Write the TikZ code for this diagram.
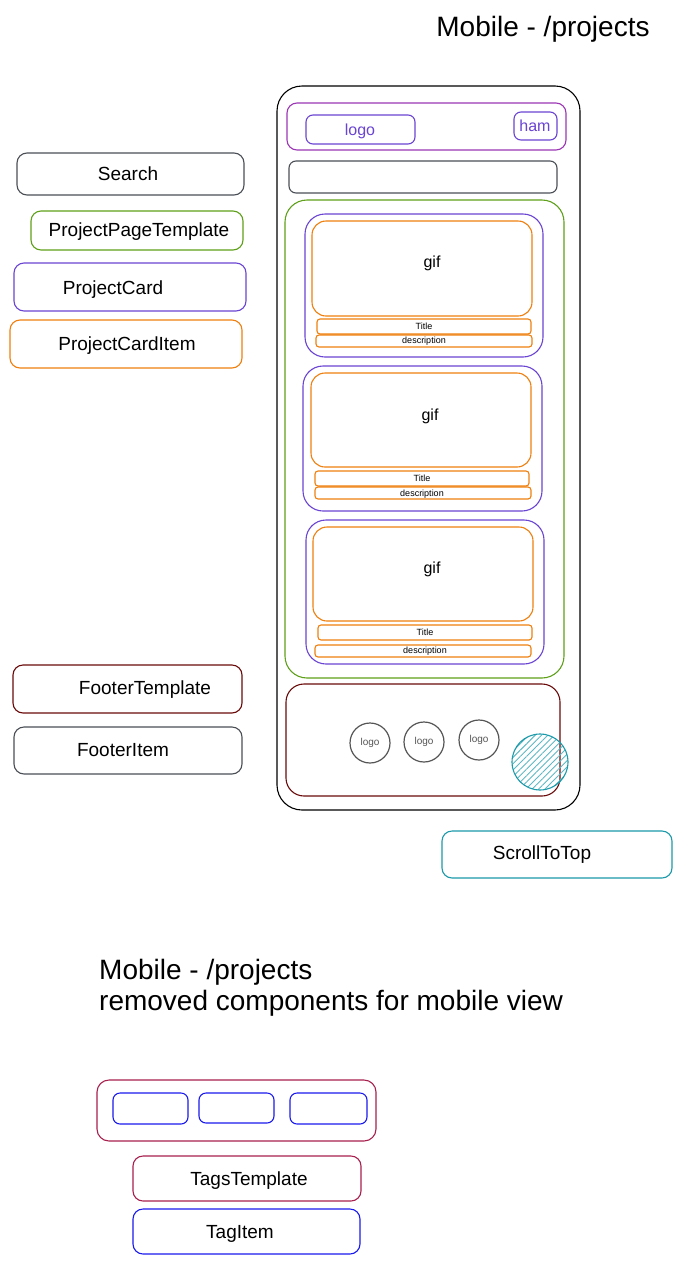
\documentclass[tikz,border=0pt]{standalone}
\usepackage{fontspec}
\setmainfont{Liberation Sans}
\usetikzlibrary{fit,patterns.meta}
\definecolor{cgray}{HTML}{4A4F55}
\definecolor{cgreen}{HTML}{5FA01A}
\definecolor{cviolet}{HTML}{6A44D2}
\definecolor{corange}{HTML}{EF7F0E}
\definecolor{cmagenta}{HTML}{9C36B5}
\definecolor{cdred}{HTML}{6A0A0A}
\definecolor{cteal}{HTML}{1B9AAA}
\definecolor{ccrimson}{HTML}{A8204E}
\definecolor{cblue}{HTML}{1A1AEE}
\definecolor{clogo}{HTML}{555555}
\begin{document}
\begin{tikzpicture}[x=1pt,y=-1pt,
  box/.style={draw=#1, line width=1.1pt, rounded corners=10pt, inner sep=0pt},
  lab/.style={font=\fontsize{19}{22}\selectfont, inner sep=0pt, text height=13.6pt, text depth=0pt},
  big/.style={font=\fontsize{28}{31}\selectfont, inner sep=0pt, align=left},
  mid/.style={font=\fontsize{16}{18}\selectfont, inner sep=0pt, text height=11.5pt, text depth=0pt},
  tiny/.style={font=\fontsize{9}{10}\selectfont, inner sep=0pt, text height=6.5pt, text depth=0pt},
  flogo/.style={draw=clogo, line width=1.2pt, circle, minimum size=40pt, inner sep=0pt, font=\fontsize{10}{11}\selectfont, text=clogo}]
\useasboundingbox[fill=white] (0,0) rectangle (683,1264);

% titles
\node[big, text height=20pt, text depth=0pt] (title1) at (543,26) {Mobile - /projects};
\node[big, anchor=north west] (title2) at (99,959) {Mobile - /projects\\removed components for mobile view};

% legend boxes (left)
\node[box=cgray, fit={(17,153) (244,195)}] (search) {};
\node[lab] (searchT) at (128,174) {Search};
\node[box=cgreen, fit={(31,211) (243,250)}] (ppt) {};
\node[lab] (pptT) at (139,230) {ProjectPageTemplate};
\node[box=cviolet, fit={(14,263) (246,311)}] (pc) {};
\node[lab] (pcT) at (113,288) {ProjectCard};
\node[box=corange, fit={(10,320) (242,368)}] (pci) {};
\node[lab] (pciT) at (127,344) {ProjectCardItem};
\node[box=cdred, fit={(13,665) (242,713)}] (ft) {};
\node[lab] (ftT) at (145,688) {FooterTemplate};
\node[box=cgray, fit={(14,727) (242,774)}] (fi) {};
\node[lab] (fiT) at (123,750) {FooterItem};
\node[box=cteal, fit={(442,831) (672,878)}] (stt) {};
\node[lab] (sttT) at (542,853) {ScrollToTop};

% phone
\node[box=black, rounded corners=25pt, fit={(277,86) (580,810)}] (phone) {};
% header
\node[box=cmagenta, fit={(287,103) (566,150)}] (header) {};
\node[box=cviolet, rounded corners=7pt, fit={(306,115) (415,144)}] (logo) {};
\node[mid, text=cviolet] (logoT) at (360,130) {logo};
\node[box=cviolet, rounded corners=7pt, fit={(514,112) (557,140)}] (ham) {};
\node[mid, text=cviolet] (hamT) at (535,126) {ham};
% search bar
\node[box=cgray, rounded corners=7pt, fit={(289,161) (557,193)}] (sbar) {};
% project page template
\node[box=cgreen, rounded corners=22pt, fit={(285,200) (564,678)}] (page) {};

% card 1
\node[box=cviolet, rounded corners=20pt, fit={(305,214) (543,357)}] (card1) {};
\node[box=corange, rounded corners=14pt, fit={(312,221) (532,316)}] (gif1) {};
\node[mid] (gif1T) at (432,262) {gif};
\node[box=corange, rounded corners=3pt, fit={(317,319) (531,334)}] (tit1) {};
\node[tiny] (tit1T) at (424,326) {Title};
\node[box=corange, rounded corners=3pt, fit={(316,335) (532,347)}] (des1) {};
\node[tiny] (des1T) at (424,340) {description};

% card 2
\node[box=cviolet, rounded corners=20pt, fit={(303,366) (542,511)}] (card2) {};
\node[box=corange, rounded corners=14pt, fit={(311,373) (531,467)}] (gif2) {};
\node[mid] (gif2T) at (430,415) {gif};
\node[box=corange, rounded corners=3pt, fit={(315,471) (529,486)}] (tit2) {};
\node[tiny] (tit2T) at (422,478) {Title};
\node[box=corange, rounded corners=3pt, fit={(315,487) (531,499)}] (des2) {};
\node[tiny] (des2T) at (422,493) {description};

% card 3
\node[box=cviolet, rounded corners=20pt, fit={(306,520) (544,664)}] (card3) {};
\node[box=corange, rounded corners=14pt, fit={(313,527) (533,621)}] (gif3) {};
\node[mid] (gif3T) at (432,568) {gif};
\node[box=corange, rounded corners=3pt, fit={(318,625) (532,640)}] (tit3) {};
\node[tiny] (tit3T) at (425,632) {Title};
\node[box=corange, rounded corners=3pt, fit={(315,645) (531,657)}] (des3) {};
\node[tiny] (des3T) at (425,650) {description};

% footer
\node[box=cdred, rounded corners=18pt, fit={(286,684) (560,796)}] (footer) {};
\node[flogo] (fl1) at (370,743) {logo};
\node[flogo] (fl2) at (424,742) {logo};
\node[flogo] (fl3) at (479,740) {logo};
\node[circle, minimum size=56pt, inner sep=0pt, draw=cteal, line width=1.1pt,
      pattern={Lines[angle=45,distance=4.5pt,line width=0.9pt]}, pattern color=cteal!70] (scroll) at (540,762) {};

% tags
\node[box=ccrimson, rounded corners=12pt, fit={(97,1080) (376,1141)}] (tags) {};
\node[box=cblue, rounded corners=7pt, fit={(113,1093) (188,1124)}] (tag1) {};
\node[box=cblue, rounded corners=7pt, fit={(199,1093) (274,1123)}] (tag2) {};
\node[box=cblue, rounded corners=7pt, fit={(290,1093) (367,1124)}] (tag3) {};
\node[box=ccrimson, fit={(133,1156) (361,1201)}] (tt) {};
\node[lab] (ttT) at (249,1179) {TagsTemplate};
\node[box=cblue, fit={(133,1209) (360,1254)}] (ti) {};
\node[lab] (tiT) at (240,1232) {TagItem};
\end{tikzpicture}
\end{document}
